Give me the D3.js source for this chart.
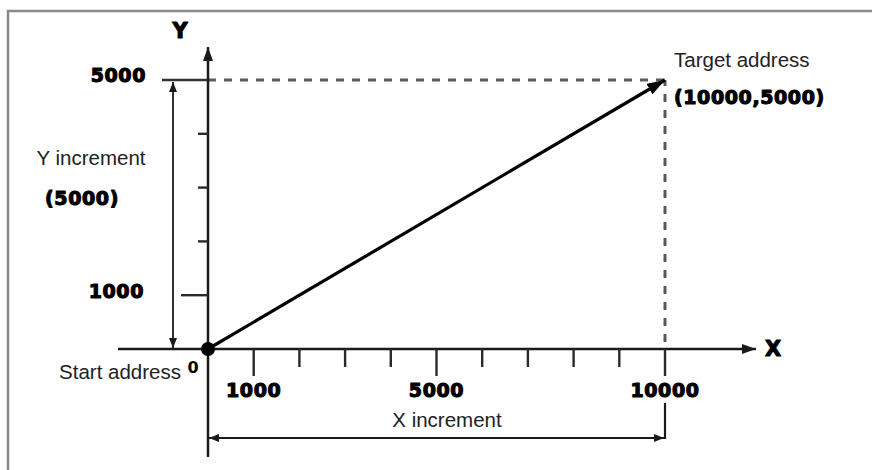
<!DOCTYPE html>
<html>
<head>
<meta charset="utf-8">
<script src="https://cdn.jsdelivr.net/npm/d3@7"></script>
<style>
  html, body { margin: 0; padding: 0; background: #fff; }
  svg { display: block; }
</style>
</head>
<body>
<svg id="chart" width="872" height="470"></svg>
<script>
// ---- data ----
const xDomain = [0, 10000];
const yDomain = [0, 5000];
const xTicks = [1000, 2000, 3000, 4000, 5000, 6000, 7000, 8000, 9000, 10000];
const xMajorTicks = [1000, 5000, 10000];
const xTickLabels = ["1000", "5000", "10000"];
const yTicks = [1000, 2000, 3000, 4000];
const yMajorTicks = [1000];
const yTickLabels = ["1000", "5000"];
const yLabelValues = [1000, 5000];
const startPoint = [0, 0];
const targetPoint = [10000, 5000];
const texts = {
  xAxis: "X", yAxis: "Y", origin: "0",
  start: "Start address", target: "Target address", targetCoord: "(10000,5000)",
  xInc: "X increment", yInc: "Y increment", yIncVal: "(5000)"
};

// ---- drawing ----
const svg = d3.select("#chart");
const x = d3.scaleLinear().domain(xDomain).range([208, 665]);
const y = d3.scaleLinear().domain(yDomain).range([349, 80]);

const ink = "#1a1a1a";
const normalFont = "'Liberation Sans', Arial, sans-serif";
const boldFont = "'DejaVu Sans', 'Liberation Sans', sans-serif";

// frame
svg.append("rect").attr("x", 8).attr("y", 11).attr("width", 880).attr("height", 480)
  .attr("fill", "none").attr("stroke", "#8a8a8a").attr("stroke-width", 2.5);

// markers
const defs = svg.append("defs");
function marker(id, len, half, color) {
  defs.append("marker").attr("id", id)
    .attr("markerUnits", "userSpaceOnUse")
    .attr("viewBox", `0 ${-half} ${len} ${2 * half}`)
    .attr("refX", len).attr("refY", 0)
    .attr("markerWidth", len).attr("markerHeight", 2 * half)
    .attr("orient", "auto-start-reverse")
    .append("path").attr("d", `M0,${-half}L${len},0L0,${half}Z`).attr("fill", color);
}
marker("axisArrow", 14, 5, ink);
marker("bigArrow", 18, 6, "#000");
marker("smallArrow", 10, 4, ink);

// dashed guide lines
svg.append("line")
  .attr("x1", x(0)).attr("y1", y(targetPoint[1]))
  .attr("x2", x(targetPoint[0])).attr("y2", y(targetPoint[1]))
  .attr("stroke", "#5a5a5a").attr("stroke-width", 3).attr("stroke-dasharray", "8,8")
  .attr("stroke-dashoffset", -16);
svg.append("line")
  .attr("x1", x(targetPoint[0])).attr("y1", y(targetPoint[1]))
  .attr("x2", x(targetPoint[0])).attr("y2", y(0))
  .attr("stroke", "#5a5a5a").attr("stroke-width", 3).attr("stroke-dasharray", "8,8")
  .attr("stroke-dashoffset", -14);

// y=5000 solid stub
svg.append("line")
  .attr("x1", 162).attr("y1", y(5000)).attr("x2", x(0)).attr("y2", y(5000))
  .attr("stroke", "#333").attr("stroke-width", 2.5);

// x axis
svg.append("line")
  .attr("x1", 118).attr("y1", y(0)).attr("x2", 756).attr("y2", y(0))
  .attr("stroke", ink).attr("stroke-width", 2.5).attr("marker-end", "url(#axisArrow)");
// y axis
svg.append("line")
  .attr("x1", x(0)).attr("y1", 457).attr("x2", x(0)).attr("y2", 47)
  .attr("stroke", ink).attr("stroke-width", 2.5).attr("marker-end", "url(#axisArrow)");

// x ticks
svg.append("g").selectAll("line").data(xTicks).join("line")
  .attr("x1", d => x(d)).attr("x2", d => x(d))
  .attr("y1", y(0)).attr("y2", d => y(0) + (xMajorTicks.includes(d) ? 27 : 18))
  .attr("stroke", "#2a2a2a").attr("stroke-width", 2.4);
// y ticks
svg.append("g").selectAll("line").data(yTicks).join("line")
  .attr("y1", d => y(d)).attr("y2", d => y(d))
  .attr("x1", x(0)).attr("x2", d => x(0) - (yMajorTicks.includes(d) ? 27 : 10))
  .attr("stroke", "#2a2a2a").attr("stroke-width", 2.4);

function boldStyle(sel, size) {
  return sel.attr("font-family", boldFont).attr("font-weight", "bold").attr("font-size", size)
    .attr("fill", "#000").attr("stroke", "#000").attr("stroke-width", 1.1)
    .attr("stroke-linejoin", "round").attr("letter-spacing", 0.6);
}

// x tick labels
boldStyle(svg.append("g").selectAll("text").data(xMajorTicks).join("text")
  .attr("x", d => x(d)).attr("y", 397)
  .attr("text-anchor", "middle"), 19)
  .text((d, i) => xTickLabels[i]);
// y tick labels
boldStyle(svg.append("g").selectAll("text").data(yLabelValues).join("text")
  .attr("x", (d, i) => i === 0 ? 144 : 146)
  .attr("y", d => d === 5000 ? y(d) + 2 : y(d) + 3)
  .attr("text-anchor", "end"), 19)
  .text((d, i) => yTickLabels[i]);

// Y increment dimension arrow
svg.append("line")
  .attr("x1", 173).attr("y1", y(yDomain[0]) - 1).attr("x2", 173).attr("y2", y(yDomain[1]) + 2)
  .attr("stroke", ink).attr("stroke-width", 1.8)
  .attr("marker-start", "url(#smallArrow)").attr("marker-end", "url(#smallArrow)");
// X increment dimension arrow
svg.append("line")
  .attr("x1", x(0) + 1).attr("y1", 438).attr("x2", x(targetPoint[0]) - 1).attr("y2", 438)
  .attr("stroke", ink).attr("stroke-width", 1.8)
  .attr("marker-start", "url(#smallArrow)").attr("marker-end", "url(#smallArrow)");
// right end bar of X increment
svg.append("line")
  .attr("x1", x(targetPoint[0])).attr("y1", 403).attr("x2", x(targetPoint[0])).attr("y2", 439)
  .attr("stroke", ink).attr("stroke-width", 2.2);

// main movement line
svg.append("line")
  .attr("x1", x(startPoint[0])).attr("y1", y(startPoint[1]))
  .attr("x2", x(targetPoint[0])).attr("y2", y(targetPoint[1]))
  .attr("stroke", "#000").attr("stroke-width", 3.2).attr("marker-end", "url(#bigArrow)");

// start dot
svg.append("circle").attr("cx", x(startPoint[0])).attr("cy", y(startPoint[1])).attr("r", 7).attr("fill", "#000");

// axis letters
boldStyle(svg.append("text").attr("x", 180).attr("y", 38).attr("text-anchor", "middle"), 21)
  .attr("letter-spacing", 0).text(texts.yAxis);
boldStyle(svg.append("text").attr("x", 773).attr("y", 356).attr("text-anchor", "middle"), 21)
  .attr("letter-spacing", 0).text(texts.xAxis);
svg.append("text").attr("x", 193).attr("y", 373).attr("text-anchor", "middle")
  .attr("font-family", boldFont).attr("font-weight", "bold").attr("font-size", 16)
  .attr("fill", "#000").text(texts.origin);

// normal labels
function label(t, px, py, anchor) {
  svg.append("text").attr("x", px).attr("y", py).attr("text-anchor", anchor)
    .attr("font-family", normalFont).attr("font-size", 20.5).attr("fill", "#222").text(t);
}
label(texts.yInc, 91, 165, "middle");
label(texts.start, 181, 379, "end");
label(texts.target, 674, 67, "start");
label(texts.xInc, 447, 427, "middle");

// bold value labels
boldStyle(svg.append("text").attr("x", 82).attr("y", 205).attr("text-anchor", "middle"), 19)
  .text(texts.yIncVal);
boldStyle(svg.append("text").attr("x", 674).attr("y", 104).attr("text-anchor", "start"), 19)
  .text(texts.targetCoord);
</script>
</body>
</html>
